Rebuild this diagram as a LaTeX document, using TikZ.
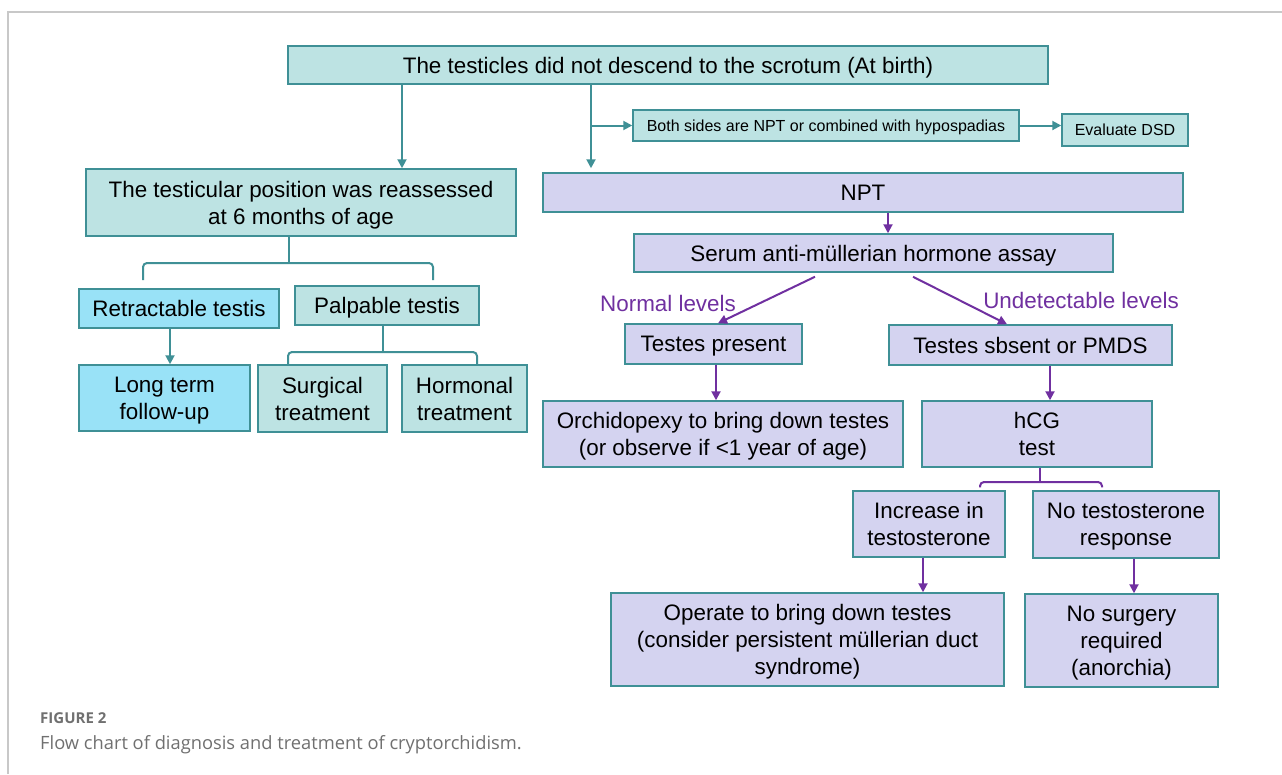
\documentclass[tikz,border=0pt]{standalone}
\usepackage{fontspec}
\setmainfont{Liberation Sans}
\newfontfamily\capfont{Open Sans}
\usetikzlibrary{arrows.meta,calc}
\definecolor{tline}{HTML}{3F9096}
\definecolor{tfill}{HTML}{BDE3E3}
\definecolor{lfill}{HTML}{D4D3F0}
\definecolor{cfill}{HTML}{99E2F7}
\definecolor{purp}{HTML}{7030A0}
\definecolor{framegray}{HTML}{C8C8C8}
\definecolor{capgray}{HTML}{707070}
\newcommand\bx[7]{\node[#6,minimum width={(#4-#2)*1pt},minimum height={(#5-#3)*1pt}] (#1) at ({(#2+#4)/2},{(#3+#5)/2}) {#7};}
\tikzset{
  basebox/.style={draw=tline, line width=1.5pt, inner sep=0pt, align=center,
    font=\fontsize{22.4}{27}\selectfont, text=black, text depth=0pt},
  tbox/.style={basebox, fill=tfill},
  lbox/.style={basebox, fill=lfill},
  cbox/.style={basebox, fill=cfill},
  smalltext/.style={font=\fontsize{16}{19}\selectfont},
  tarr/.style={draw=tline, line width=2pt, -{Triangle[length=9pt,width=9pt]}},
  parr/.style={draw=purp, line width=2pt, -{Triangle[length=9pt,width=9pt]}},
  tbrace/.style={draw=tline, line width=2pt, rounded corners=4pt},
  pbrace/.style={draw=purp, line width=2pt, rounded corners=4pt},
  plabel/.style={text=purp, inner sep=0pt, font=\fontsize{22.4}{27}\selectfont},
}
\begin{document}
\begin{tikzpicture}[x=1pt,y=-1pt]
\useasboundingbox (0,0) rectangle (1282,774);
\fill[white] (0,0) rectangle (1282,774);
\draw[framegray, line width=1.2pt] (8,774) -- (8,12) -- (1282,12);

% boxes
\bx{top}{288}{46}{1048}{84}{tbox}{The testicles did not descend to the scrotum (At birth)}
\bx{both}{633}{110}{1019}{141}{tbox,smalltext}{Both sides are NPT or combined with hypospadias}
\bx{dsd}{1062}{114}{1188}{146}{tbox,smalltext}{Evaluate DSD}
\bx{reass}{86}{169}{516}{236}{tbox}{The testicular position was reassessed\\at 6 months of age}
\bx{npt}{543}{173}{1183}{212}{lbox}{NPT}
\bx{amh}{634}{234}{1113}{272}{lbox}{Serum anti-müllerian hormone assay}
\bx{retr}{79}{289}{279}{328}{cbox}{Retractable testis}
\bx{palp}{295}{286}{479}{325}{tbox}{Palpable testis}
\bx{ltf}{79}{365}{250}{431}{cbox}{Long term\\follow-up}
\bx{surg}{258}{365}{387}{432}{tbox}{Surgical\\treatment}
\bx{horm}{402}{365}{527}{432}{tbox}{Hormonal\\treatment}
\bx{tp}{625}{324}{802}{364}{lbox}{Testes present}
\bx{ta}{889}{325}{1172}{365}{lbox}{Testes sbsent or PMDS}
\bx{orch}{543}{401}{903}{467}{lbox}{Orchidopexy to bring down testes\\(or observe if <1 year of age)}
\bx{hcg}{922}{401}{1152}{467}{lbox}{hCG\\test}
\bx{inc}{853}{491}{1005}{557}{lbox}{Increase in\\testosterone}
\bx{nor}{1033}{491}{1219}{558}{lbox}{No testosterone\\response}
\bx{op}{611}{593}{1004}{686}{lbox}{Operate to bring down testes\\(consider persistent müllerian duct\\syndrome)}
\bx{nos}{1025}{594}{1218}{687}{lbox}{No surgery\\required\\(anorchia)}

% helper x positions
\coordinate (xA) at (402,0);
\coordinate (xB) at (591,0);
\coordinate (xC) at (888,0);
\coordinate (xN1) at (815,0);
\coordinate (xN2) at (718,0);
\coordinate (xU1) at (913,0);
\coordinate (xU2) at (1007,0);
\coordinate (xTP) at (716,0);
\coordinate (xTA) at (1050,0);
\coordinate (xH) at (1040,0);
\coordinate (xHL) at (980,0);
\coordinate (xHR) at (1102,0);
\coordinate (yH) at (0,482);
\coordinate (xI) at (923,0);
\coordinate (xNR) at (1134,0);
\coordinate (xR) at (289,0);
\coordinate (xRL) at (143,0);
\coordinate (xRR) at (433,0);
\coordinate (yR) at (0,263);
\coordinate (yRT) at (0,280);
\coordinate (xRT) at (170,0);
\coordinate (xP) at (383,0);
\coordinate (xPL) at (288,0);
\coordinate (xPR) at (477,0);
\coordinate (yP) at (0,352);

% teal connectors
\draw[tarr] (top.south -| xA) -- (reass.north -| xA);
\draw[tarr] (top.south -| xB) -- ($(npt.north -| xB)+(0,-4)$);
\draw[tarr] (both.west -| xB) -- (both.west);
\draw[tarr] (both.east) -- (dsd.west |- both.east);
\draw[tarr] (retr.south -| xRT) -- (ltf.north -| xRT);

% teal braces
\draw[tbrace] (reass.south -| xR) -- (xR |- yR);
\draw[tbrace] (xRL |- yRT) -- (xRL |- yR) -- (xRR |- yR) -- (xRR |- yRT);
\draw[tbrace] (palp.south -| xP) -- (xP |- yP);
\draw[tbrace] (surg.north -| xPL) -- (xPL |- yP) -- (xPR |- yP) -- (horm.north -| xPR);

% purple connectors
\draw[parr] (npt.south -| xC) -- (amh.north -| xC);
\draw[parr] ($(amh.south -| xN1)+(0,4)$) -- (tp.north -| xN2);
\draw[parr] ($(amh.south -| xU1)+(0,4)$) -- (ta.north -| xU2);
\draw[parr] (tp.south -| xTP) -- (orch.north -| xTP);
\draw[parr] (ta.south -| xTA) -- (hcg.north -| xTA);
\draw[pbrace] (hcg.south -| xH) -- (xH |- yH);
\draw[pbrace] ($(inc.north -| xHL)+(0,-3)$) -- (xHL |- yH) -- (xHR |- yH) -- ($(nor.north -| xHR)+(0,-3)$);
\draw[parr] (inc.south -| xI) -- (op.north -| xI);
\draw[parr] (nor.south -| xNR) -- (nos.north -| xNR);

% purple labels
\node[plabel] (nl) at (668,303) {Normal levels};
\node[plabel] (ul) at (1081,300) {Undetectable levels};

% caption
\node[anchor=west, inner sep=0pt, text=capgray, font=\capfont\fontsize{15}{18}\selectfont\bfseries] (fig) at (40,718) {FIGURE 2};
\node[anchor=west, inner sep=0pt, text=capgray, font=\capfont\fontsize{18.3}{22}\selectfont] (cap) at (40,745) {Flow chart of diagnosis and treatment of cryptorchidism.};
\end{tikzpicture}
\end{document}
